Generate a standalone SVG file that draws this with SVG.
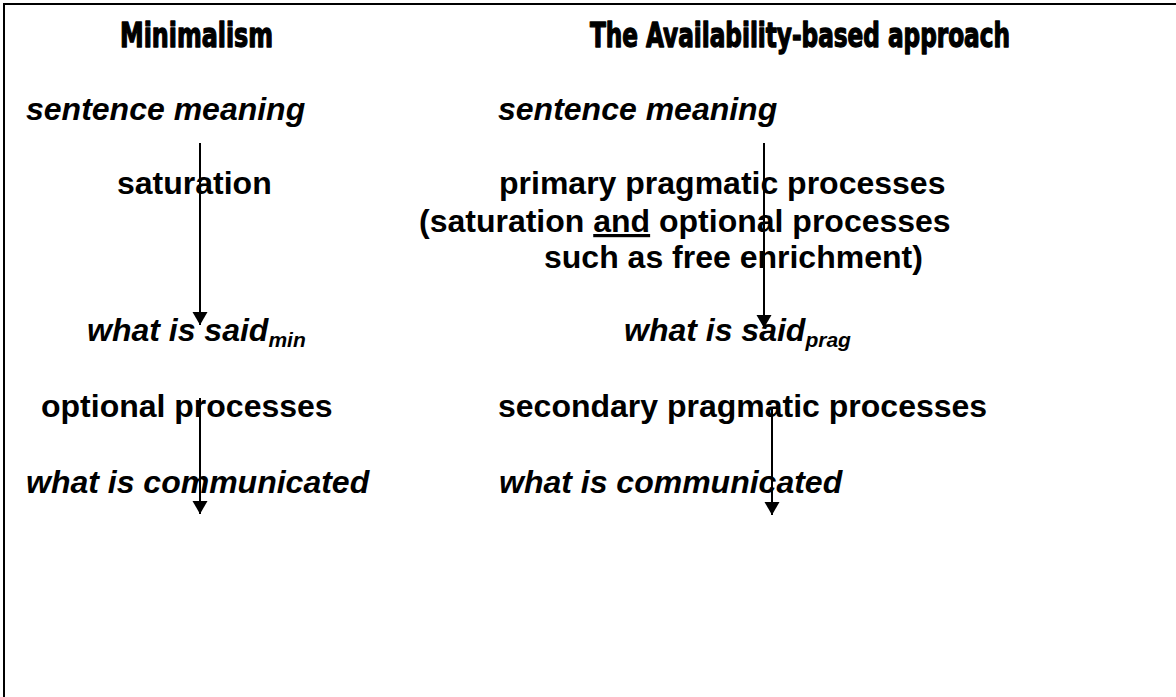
<svg xmlns="http://www.w3.org/2000/svg" width="1176" height="697" viewBox="0 0 1176 697">
<defs>
<style>
.t{font-family:"Liberation Sans",Arial,sans-serif;font-weight:bold;font-size:32px;fill:#000}
.i{font-style:italic}
.h{font-family:"Liberation Sans Narrow","DejaVu Sans Condensed","Liberation Sans",sans-serif;font-weight:bold;font-size:34px;fill:#000;stroke:#000;stroke-width:1.3;stroke-linejoin:round}
.sub{font-size:21px}
.c{stroke:#000;stroke-width:2;fill:none}
</style>
<marker id="ah" markerWidth="14" markerHeight="16" refX="13" refY="8" orient="auto" markerUnits="userSpaceOnUse">
<path d="M0,0.5 L13,8 L0,15.5 Z" fill="#000"/>
</marker>
</defs>
<rect x="0" y="0" width="1176" height="697" fill="#fff"/>
<path d="M4,697 L4,4 L1176,4" stroke="#000" stroke-width="2" fill="none"/>
<g id="title-min"><text class="h" x="120" y="47" textLength="153" lengthAdjust="spacingAndGlyphs">Minimalism</text></g>
<g id="title-avail"><text class="h" x="590" y="47" textLength="420" lengthAdjust="spacingAndGlyphs">The Availability-based approach</text></g>
<g id="l-sm"><text class="t i" x="26" y="120">sentence meaning</text></g>
<g id="l-sat"><text class="t" x="117" y="194">saturation</text></g>
<g id="l-wis"><text class="t i" x="87" y="341">what is said<tspan class="sub" dy="6">min</tspan></text></g>
<g id="l-opt"><text class="t" x="41" y="417">optional processes</text></g>
<g id="l-wic"><text class="t i" x="26" y="493">what is communicated</text></g>
<g id="r-sm"><text class="t i" x="498" y="120">sentence meaning</text></g>
<g id="r-ppp">
<text class="t" x="499" y="194">primary pragmatic processes</text>
<text class="t" x="419" y="232">(saturation <tspan text-decoration="underline">and</tspan> optional processes</text>
<text class="t" x="544" y="268">such as free enrichment)</text>
</g>
<g id="r-wis"><text class="t i" x="624" y="341">what is said<tspan class="sub" dy="6">prag</tspan></text></g>
<g id="r-spp"><text class="t" x="498" y="417">secondary pragmatic processes</text></g>
<g id="r-wic"><text class="t i" x="499" y="493">what is communicated</text></g>
<g id="connectors">
<line class="c" x1="200" y1="143" x2="200" y2="325" marker-end="url(#ah)"/>
<line class="c" x1="200" y1="398" x2="200" y2="514" marker-end="url(#ah)"/>
<line class="c" x1="764" y1="143" x2="764" y2="328" marker-end="url(#ah)"/>
<line class="c" x1="772" y1="408" x2="772" y2="515" marker-end="url(#ah)"/>
</g>
</svg>
